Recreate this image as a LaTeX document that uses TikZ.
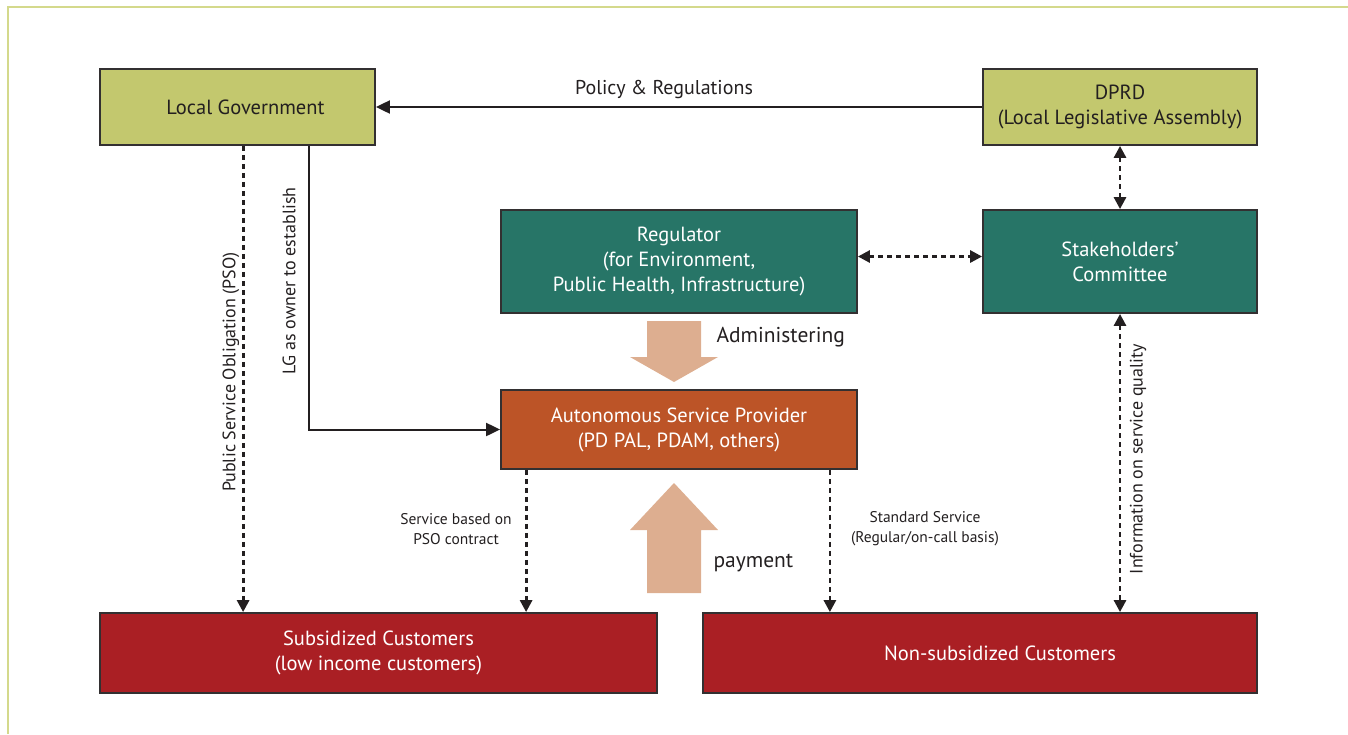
\documentclass[tikz,border=0pt]{standalone}
\usepackage{fontspec}
\setmainfont{PT Sans}
\usetikzlibrary{arrows.meta,calc}
\definecolor{frameline}{RGB}{212,217,140}
\definecolor{olive}{RGB}{195,200,110}
\definecolor{teal}{RGB}{39,117,103}
\definecolor{rust}{RGB}{188,84,39}
\definecolor{crimson}{RGB}{170,31,36}
\definecolor{peach}{RGB}{221,174,144}
\definecolor{ink}{RGB}{35,31,32}
\definecolor{edge}{RGB}{51,48,49}
\tikzset{
  box/.style={draw=edge, line width=1.8pt, align=center, inner sep=0pt, font=\fontsize{20.5}{25}\selectfont},
  lightbox/.style={box, fill=olive, text=ink},
  darkbox/.style={box, text=white},
  solidarrow/.style={draw=ink, line width=2pt, -{Triangle[length=14pt,width=13pt]}},
  dasharrow/.style={draw=ink, line width=2.8pt, dash pattern=on 5pt off 4pt, -{Triangle[length=12pt,width=12pt]}},
  dashboth/.style={dasharrow, {Triangle[length=12pt,width=12pt]}-{Triangle[length=12pt,width=12pt]}},
  lbl/.style={text=ink, font=\fontsize{20}{24}\selectfont},
  biglbl/.style={text=ink, font=\fontsize{21.5}{25}\selectfont},
  small/.style={text=ink, align=center, font=\fontsize{15.5}{20}\selectfont},
  rot/.style={text=ink, rotate=90, font=\fontsize{18}{22}\selectfont},
  block/.style={fill=peach, draw=none}
}
\begin{document}
\begin{tikzpicture}[x=1pt,y=-1pt]
\useasboundingbox (0,0) rectangle (1348,734);
\draw[frameline, line width=1.6pt] (8,734) -- (8,7) -- (1348,7);

\node[lightbox, minimum width=275pt, minimum height=76pt] (LG) at (237.5,107) {\hspace*{16pt}Local Government};
\node[lightbox, minimum width=274pt, minimum height=76pt] (DPRD) at (1120,107) {DPRD\\(Local Legislative Assembly)};
\node[darkbox, fill=teal, minimum width=356pt, minimum height=103pt] (REG) at (679,261.5) {Regulator\\(for Environment,\\Public Health, Infrastructure)};
\node[darkbox, fill=teal, minimum width=274pt, minimum height=103pt] (SC) at (1120,261.5) {Stakeholders'\\Committee};
\node[darkbox, fill=rust, minimum width=356pt, minimum height=79pt] (ASP) at (679,429.5) {Autonomous Service Provider\\(PD PAL, PDAM, others)};
\node[darkbox, fill=crimson, minimum width=557pt, minimum height=80pt] (SUB) at (378.5,653) {Subsidized Customers\\(low income customers)};
\node[darkbox, fill=crimson, minimum width=554pt, minimum height=80pt] (NON) at (980,653) {\hspace*{40pt}Non-subsidized Customers};

% block arrows
\fill[block] (647,321) -- (701,321) -- (701,357) -- (718,357) -- (674,382) -- (630,357) -- (647,357) -- cycle;
\fill[block] (647,593) -- (701,593) -- (701,530) -- (718,530) -- (674,483) -- (630,530) -- (647,530) -- cycle;
\node[biglbl, anchor=west] (adm) at (713,337) {Administering};
\node[biglbl, anchor=west] (pay) at (710,563) {payment};

% connectors
\draw[solidarrow] (DPRD.west) -- node[lbl, above=4pt, xshift=-15pt] (pol) {Policy \& Regulations} (LG.east);
\draw[dasharrow] ([xshift=144pt]LG.south west) -- ([xshift=144pt]LG.south west |- SUB.north);
\node[rot] (pso) at (231,372) {Public Service Obligation (PSO)};
\draw[solidarrow] ([xshift=210pt]LG.south west) |- (ASP.west);
\node[rot] (own) at (289,281) {LG as owner to establish};
\draw[dashboth] ([yshift=5pt]REG.east) -- ([yshift=5pt]SC.west);
\draw[dashboth] (DPRD.south) -- (SC.north);
\draw[dashboth] (SC.south) -- (SC.south |- NON.north);
\node[rot] (info) at (1138,459) {Information on service quality};
\draw[dasharrow] ([xshift=26pt]ASP.south west) -- ([xshift=26pt]ASP.south west |- SUB.north);
\node[small] (pso2) at (456,529) {Service based on\\PSO contract};
\draw[dasharrow] ([xshift=-28pt]ASP.south east) -- ([xshift=-28pt]ASP.south east |- NON.north);
\node[small] (std) at (925,529) {Standard Service\\(Regular/on-call basis)};
\end{tikzpicture}
\end{document}
